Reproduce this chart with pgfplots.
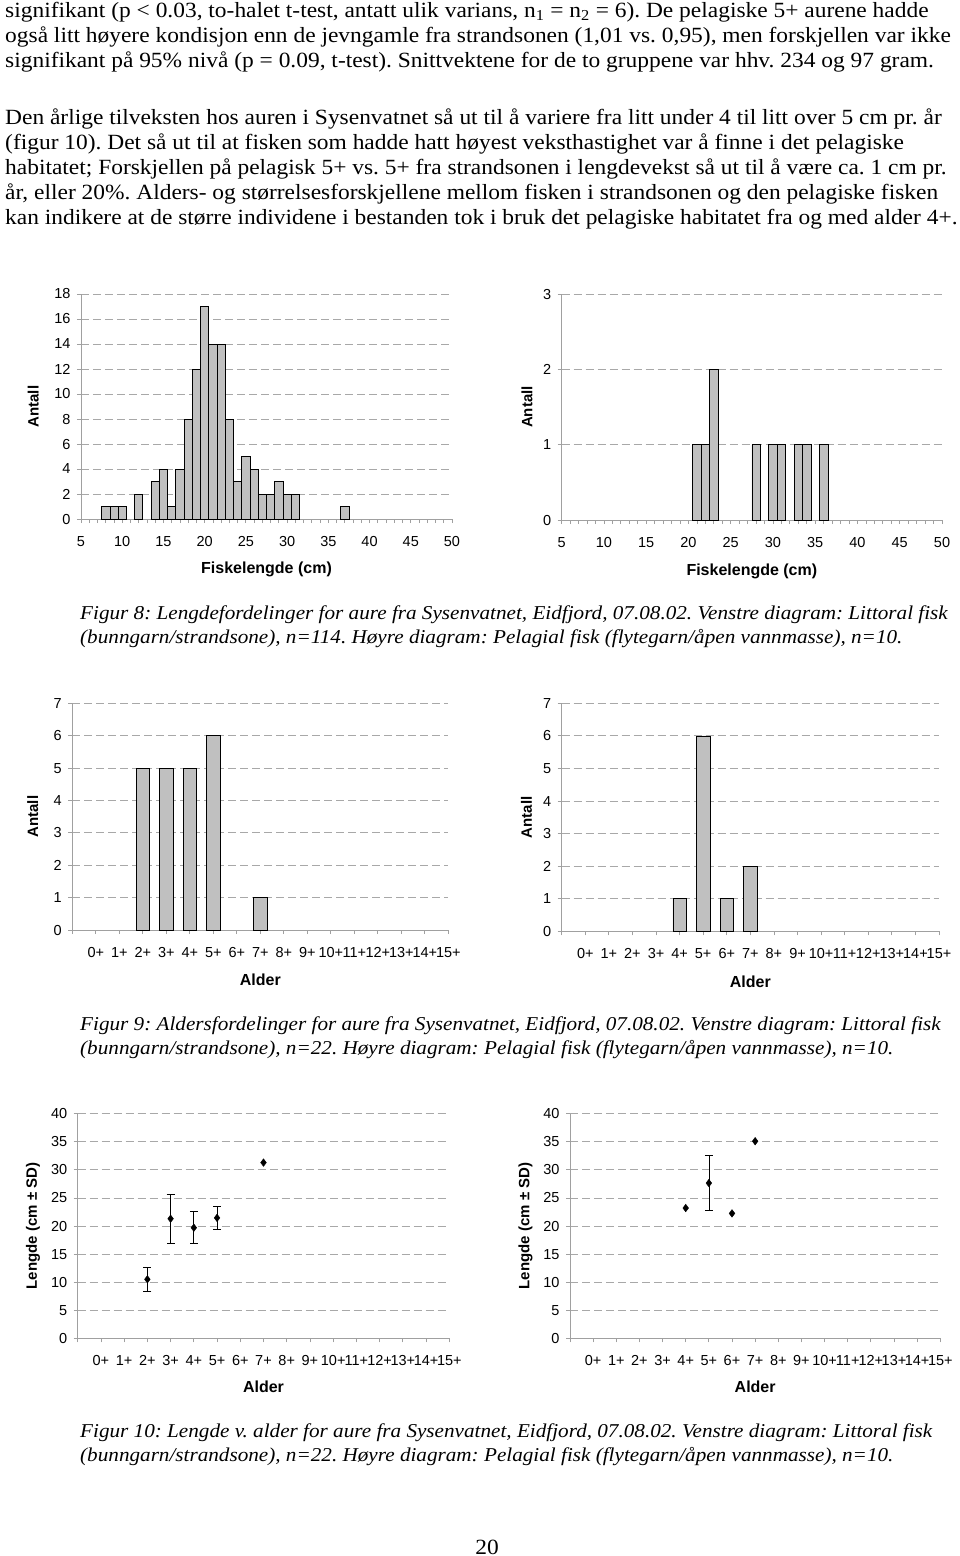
\documentclass[border=0pt]{standalone}
\usepackage{fontspec}
\setmainfont{Liberation Serif}[FakeStretch=1.08]
\newfontfamily\arial{Liberation Sans}
\usepackage{pgfplots}
\pgfplotsset{compat=1.18}
\definecolor{barfill}{HTML}{C0C0C0}
\definecolor{gridc}{HTML}{A8A8A8}
\definecolor{axc}{HTML}{A0A0A0}
\newcommand{\bodyfont}{\fontsize{21.7}{25}\selectfont}
\newcommand{\capfont}{\fontsize{19.6}{24}\selectfont\itshape}
\pgfplotsset{
  chart/.style={
    scale only axis,
    anchor=south west,
    axis lines=left,
    axis line style={-, draw=axc, line width=0.8pt},
    ymajorgrids,
    grid style={draw=gridc, dash pattern=on 8pt off 4pt, line width=0.8pt},
    tick align=outside,
    major tick length=4pt,
    minor tick length=4pt,
    tick style={draw=axc, line width=0.8pt},
    /pgf/number format/assume math mode=true,
    tick label style={font=\arial\fontsize{14.5}{15}\selectfont},
    yticklabel style={xshift=-3pt},
    xticklabel style={yshift=-10pt},
    xlabel style={font=\arial\bfseries\fontsize{16}{16}\selectfont},
    ylabel style={font=\arial\bfseries\fontsize{15}{15}\selectfont},
    clip=false,
  },
  agechart/.style={
    chart,
    xmin=-1, xmax=15,
    xtick={-1,0,...,15},
    xticklabels={{},0+,1+,2+,3+,4+,5+,6+,7+,8+,9+,10+,11+,12+,13+,14+,15+},
    xlabel={Alder},
  },
  histbar/.style={ybar, bar width=1, fill=barfill, draw=black, line width=0.7pt},
  agebar/.style={ybar, bar width=0.57, fill=barfill, draw=black, line width=0.7pt},
}
\begin{document}
\frenchspacing
\begin{tikzpicture}
\useasboundingbox (0,0) rectangle (960pt,-1556pt);
\tikzset{txt/.style={anchor=base west, inner sep=0pt}}
% body text
\node[txt] at (5pt,-17.5pt) {\bodyfont signifikant (p < 0.03, to-halet t-test, antatt ulik varians, n\textsubscript{1} = n\textsubscript{2} = 6). De pelagiske 5+ aurene hadde};
\node[txt] at (5pt,-42.5pt) {\bodyfont også litt høyere kondisjon enn de jevngamle fra strandsonen (1,01 vs. 0,95), men forskjellen var ikke};
\node[txt] at (5pt,-67.5pt) {\bodyfont signifikant på 95\% nivå (p = 0.09, t-test). Snittvektene for de to gruppene var hhv. 234 og 97 gram.};
\node[txt] at (5pt,-124pt) {\bodyfont Den årlige tilveksten hos auren i Sysenvatnet så ut til å variere fra litt under 4 til litt over 5 cm pr. år};
\node[txt] at (5pt,-149pt) {\bodyfont (figur 10). Det så ut til at fisken som hadde hatt høyest veksthastighet var å finne i det pelagiske};
\node[txt] at (5pt,-174pt) {\bodyfont habitatet; Forskjellen på pelagisk 5+ vs. 5+ fra strandsonen i lengdevekst så ut til å være ca. 1 cm pr.};
\node[txt] at (5pt,-199pt) {\bodyfont år, eller 20\%. Alders- og størrelsesforskjellene mellom fisken i strandsonen og den pelagiske fisken};
\node[txt] at (5pt,-224pt) {\bodyfont kan indikere at de større individene i bestanden tok i bruk det pelagiske habitatet fra og med alder 4+.};
% captions
\node[txt] at (80pt,-619pt) {\capfont Figur 8: Lengdefordelinger for aure fra Sysenvatnet, Eidfjord, 07.08.02. Venstre diagram: Littoral fisk};
\node[txt] at (80pt,-643pt) {\capfont (bunngarn/strandsone), n=114. Høyre diagram: Pelagial fisk (flytegarn/åpen vannmasse), n=10.};
\node[txt] at (80pt,-1030pt) {\capfont Figur 9: Aldersfordelinger for aure fra Sysenvatnet, Eidfjord, 07.08.02. Venstre diagram: Littoral fisk};
\node[txt] at (80pt,-1054pt) {\capfont (bunngarn/strandsone), n=22. Høyre diagram: Pelagial fisk (flytegarn/åpen vannmasse), n=10.};
\node[txt] at (80pt,-1437pt) {\capfont Figur 10: Lengde v. alder for aure fra Sysenvatnet, Eidfjord, 07.08.02. Venstre diagram: Littoral fisk};
\node[txt] at (80pt,-1461pt) {\capfont (bunngarn/strandsone), n=22. Høyre diagram: Pelagial fisk (flytegarn/åpen vannmasse), n=10.};
\node[anchor=base, inner sep=0pt] at (487pt,-1554pt) {\bodyfont 20};

% Figure 8 left
\begin{axis}[chart, at={(81pt,-519pt)}, width=371pt, height=225pt,
  xmin=5, xmax=50, ymin=0, ymax=18,
  xtick={5,10,...,50}, minor x tick num=4, ytick={0,2,...,18},
  xlabel={Fiskelengde (cm)}, ylabel={Antall},
  xlabel style={at={(axis description cs:0.5,-0.222)}, anchor=center},
  ylabel style={at={(axis description cs:-0.129,0.5)}, anchor=center, rotate=0}]
\addplot[histbar] coordinates {
(8,1) (9,1) (10,1) (12,2) (14,3) (15,4) (16,1) (17,4) (18,8) (19,12) (20,17)
(21,14) (22,14) (23,8) (24,3) (25,5) (26,4) (27,2) (28,2) (29,3) (30,2) (31,2) (37,1)};
\end{axis}

% Figure 8 right
\begin{axis}[chart, at={(561.7pt,-520pt)}, width=380.3pt, height=226pt,
  xmin=5, xmax=50, ymin=0, ymax=3,
  xtick={5,10,...,50}, minor x tick num=4, ytick={0,1,2,3},
  xlabel={Fiskelengde (cm)}, ylabel={Antall},
  xlabel style={at={(axis description cs:0.5,-0.226)}, anchor=center},
  ylabel style={at={(axis description cs:-0.091,0.5)}, anchor=center}]
\addplot[histbar] coordinates {
(21,1) (22,1) (23,2) (28,1) (30,1) (31,1) (33,1) (34,1) (36,1)};
\end{axis}

% Figure 9 left
\begin{axis}[agechart, at={(72.3pt,-930pt)}, width=376pt, height=226.7pt,
  ymin=0, ymax=7, ytick={0,...,7}, ylabel={Antall},
  xlabel style={at={(axis description cs:0.5,-0.22)}, anchor=center},
  ylabel style={at={(axis description cs:-0.105,0.5)}, anchor=center}]
\addplot[agebar] coordinates {(2,5) (3,5) (4,5) (5,6) (7,1)};
\end{axis}

% Figure 9 right
\begin{axis}[agechart, at={(561.7pt,-931.3pt)}, width=377.3pt, height=228pt,
  ymin=0, ymax=7, ytick={0,...,7}, ylabel={Antall},
  xlabel style={at={(axis description cs:0.5,-0.221)}, anchor=center},
  ylabel style={at={(axis description cs:-0.093,0.5)}, anchor=center}]
\addplot[agebar] coordinates {(4,1) (5,6) (6,1) (7,2)};
\end{axis}

% Figure 10 left
\begin{axis}[agechart, at={(77.7pt,-1338.3pt)}, width=371.6pt, height=224.6pt,
  ymin=0, ymax=40, ytick={0,5,...,40}, ylabel={Lengde (cm ± SD)},
  xlabel style={at={(axis description cs:0.5,-0.217)}, anchor=center},
  ylabel style={at={(axis description cs:-0.12,0.5)}, anchor=center}]
\addplot[only marks, mark=diamond*, mark size=3.8pt, black,
  error bars/.cd, y dir=both, y explicit,
  error bar style={line width=0.7pt, black},
  error mark options={rotate=90, mark size=4pt, line width=0.7pt, black}]
  coordinates {(2,10.5) +- (0,2.2) (3,21.3) +- (0,4.3) (4,19.7) +- (0,2.85) (5,21.45) +- (0,2.1)};
\addplot[only marks, mark=diamond*, mark size=3.8pt, black] coordinates {(7,31.3)};
\end{axis}

% Figure 10 right
\begin{axis}[agechart, at={(570pt,-1338.3pt)}, width=370.3pt, height=224.6pt,
  ymin=0, ymax=40, ytick={0,5,...,40}, ylabel={Lengde (cm ± SD)},
  xlabel style={at={(axis description cs:0.5,-0.217)}, anchor=center},
  ylabel style={at={(axis description cs:-0.12,0.5)}, anchor=center}]
\addplot[only marks, mark=diamond*, mark size=3.8pt, black,
  error bars/.cd, y dir=both, y explicit,
  error bar style={line width=0.7pt, black},
  error mark options={rotate=90, mark size=4pt, line width=0.7pt, black}]
  coordinates {(5,27.65) +- (0,4.9)};
\addplot[only marks, mark=diamond*, mark size=3.8pt, black] coordinates {(4,23.2) (6,22.25) (7,35.1)};
\end{axis}
\end{tikzpicture}
\end{document}
